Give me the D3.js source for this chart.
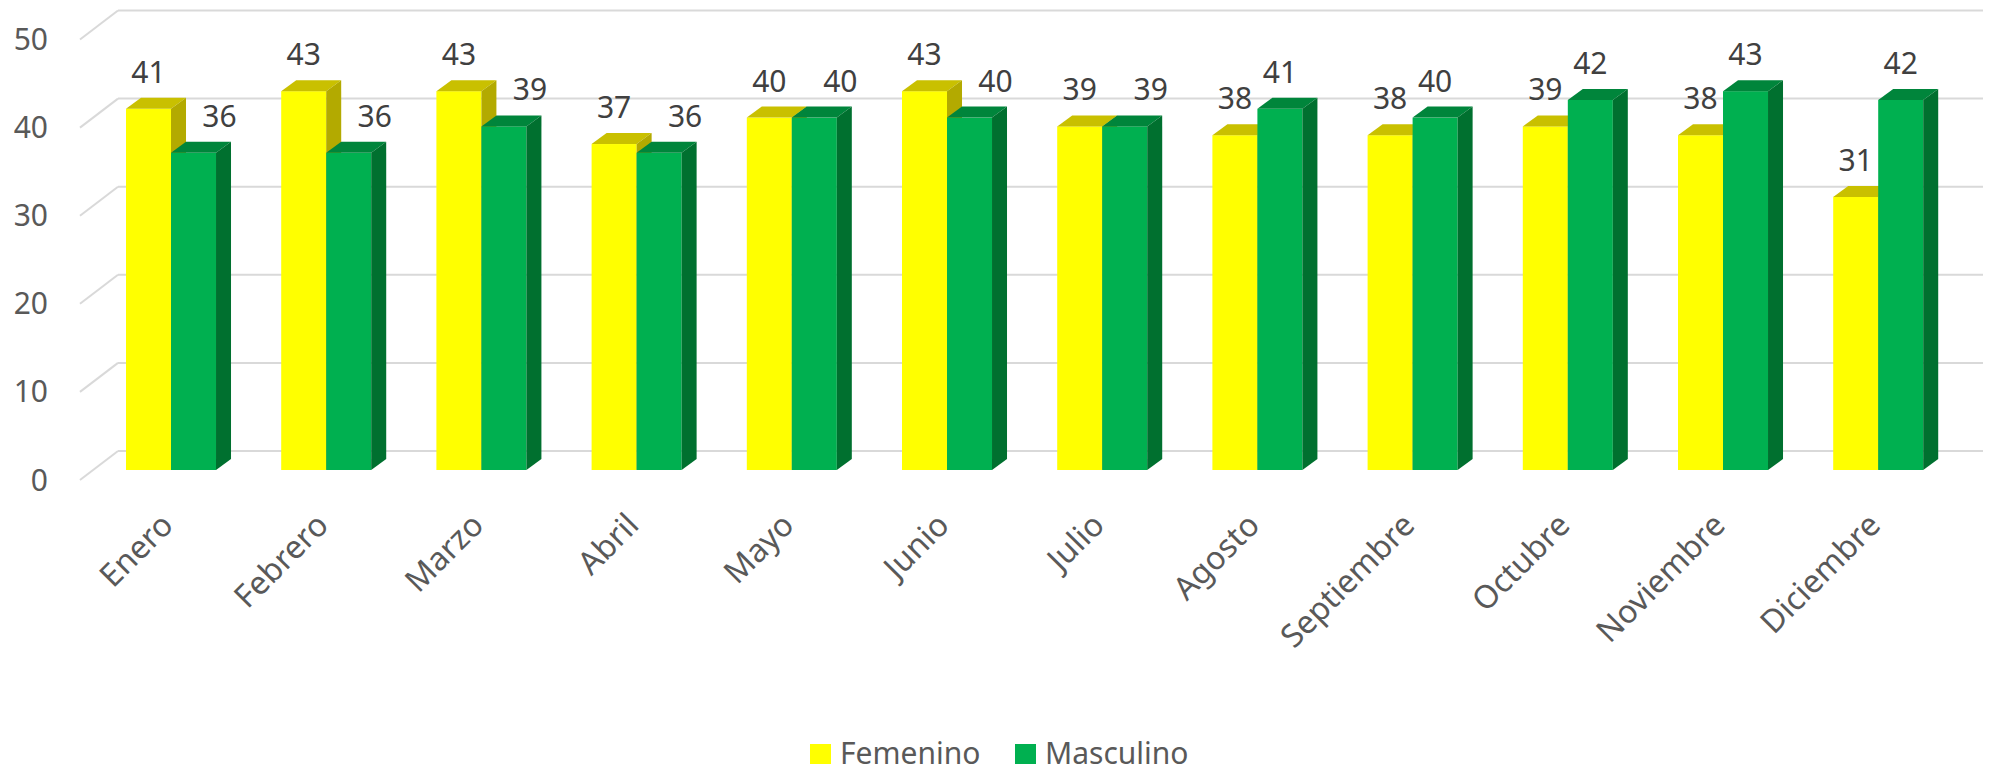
<!DOCTYPE html>
<html>
<head>
<meta charset="utf-8">
<script src="https://cdnjs.cloudflare.com/ajax/libs/d3/7.8.5/d3.min.js"></script>
<style>
  body { margin: 0; background: #fff; }
  text { font-family: "Noto Sans", sans-serif; }
</style>
</head>
<body>
<svg id="viz" width="1989" height="772"></svg>
<script>
var months = ["Enero", "Febrero", "Marzo", "Abril", "Mayo", "Junio", "Julio",
              "Agosto", "Septiembre", "Octubre", "Noviembre", "Diciembre"];
var series = ["Femenino", "Masculino"];
var femenino = [41, 43, 43, 37, 40, 43, 39, 38, 38, 39, 38, 31];
var masculino = [36, 36, 39, 36, 40, 40, 39, 41, 40, 42, 43, 42];
var yTicks = [0, 10, 20, 30, 40, 50];

var colors = {
  Femenino: { front: "#ffff00", top: "#c9c000", side: "#b3aa00" },
  Masculino: { front: "#00b050", top: "#00853b", side: "#00702f" }
};

var svg = d3.select("#viz");
var depthX = 15, depthY = 11;     // bar depth
var wallX = 38, wallY = 29;        // back wall offset

var y = d3.scaleLinear().domain([0, 50]).range([470, 29.5]);
var step = 155.2;
var x = d3.scaleBand().domain(months)
  .range([126 - 0.21 * step, 126 - 0.21 * step + 12 * step])
  .paddingInner(0.42).paddingOuter(0.21);
var xs = d3.scaleBand().domain(series).range([0, x.bandwidth()]);

// back wall gridlines
var yBack = function(v) { return y(v) - 19; };
var grid = svg.append("g");
yTicks.forEach(function(t) {
  grid.append("line")
    .attr("x1", 118).attr("x2", 1983)
    .attr("y1", yBack(t)).attr("y2", yBack(t))
    .attr("stroke", "#d9d9d9").attr("stroke-width", 2);
  grid.append("line")
    .attr("x1", 118 - wallX).attr("y1", yBack(t) + wallY)
    .attr("x2", 118).attr("y2", yBack(t))
    .attr("stroke", "#d9d9d9").attr("stroke-width", 2);
  grid.append("text")
    .attr("x", 48).attr("y", yBack(t) + wallY)
    .attr("dy", "0.35em")
    .attr("text-anchor", "end")
    .attr("font-size", 30).attr("fill", "#595959")
    .text(t);
});

// bars
var data = months.map(function(m, i) {
  return { month: m, vals: [{ s: "Femenino", v: femenino[i] }, { s: "Masculino", v: masculino[i] }] };
});

var groups = svg.selectAll("g.month").data(data).enter().append("g").attr("class", "month");

groups.each(function(d) {
  var g = d3.select(this);
  d.vals.forEach(function(b) {
    var x0 = x(d.month) + xs(b.s), w = xs.bandwidth();
    var y0 = y(0), y1 = y(b.v);
    var c = colors[b.s];
    g.append("rect").attr("x", x0).attr("y", y1).attr("width", w).attr("height", y0 - y1)
      .attr("fill", c.front);
    g.append("polygon")
      .attr("points", [[x0, y1], [x0 + w, y1], [x0 + w + depthX, y1 - depthY], [x0 + depthX, y1 - depthY]].join(" "))
      .attr("fill", c.top);
    g.append("polygon")
      .attr("points", [[x0 + w, y1], [x0 + w + depthX, y1 - depthY], [x0 + w + depthX, y0 - depthY], [x0 + w, y0]].join(" "))
      .attr("fill", c.side);
  });
});

// data labels
groups.each(function(d) {
  var g = d3.select(this);
  d.vals.forEach(function(b, k) {
    var cx = x(d.month) + xs(b.s) + xs.bandwidth() / 2;
    var shift = 0;
    if (k === 1 && d.vals[0].v >= b.v) shift = 26;
    g.append("text")
      .attr("x", cx + shift)
      .attr("y", y(b.v) - depthY - 15)
      .attr("text-anchor", "middle")
      .attr("font-size", 30).attr("fill", "#404040")
      .text(b.v);
  });
});

// month labels
svg.selectAll("text.month").data(months).enter().append("text")
  .attr("class", "month")
  .attr("text-anchor", "end")
  .attr("font-size", 32).attr("fill", "#595959")
  .attr("transform", function(m) {
    return "translate(" + (x(m) + x.bandwidth() / 2 + 4) + ",527) rotate(-45)";
  })
  .text(function(m) { return m; });

// legend
var legend = svg.append("g").attr("transform", "translate(810,744)");
var lx = [0, 205];
series.forEach(function(s, i) {
  legend.append("rect").attr("x", lx[i]).attr("y", 0).attr("width", 21).attr("height", 20)
    .attr("fill", colors[s].front);
  legend.append("text").attr("x", lx[i] + 30).attr("y", 20)
    .attr("font-size", 30).attr("fill", "#595959")
    .text(s);
});
</script>
</body>
</html>
